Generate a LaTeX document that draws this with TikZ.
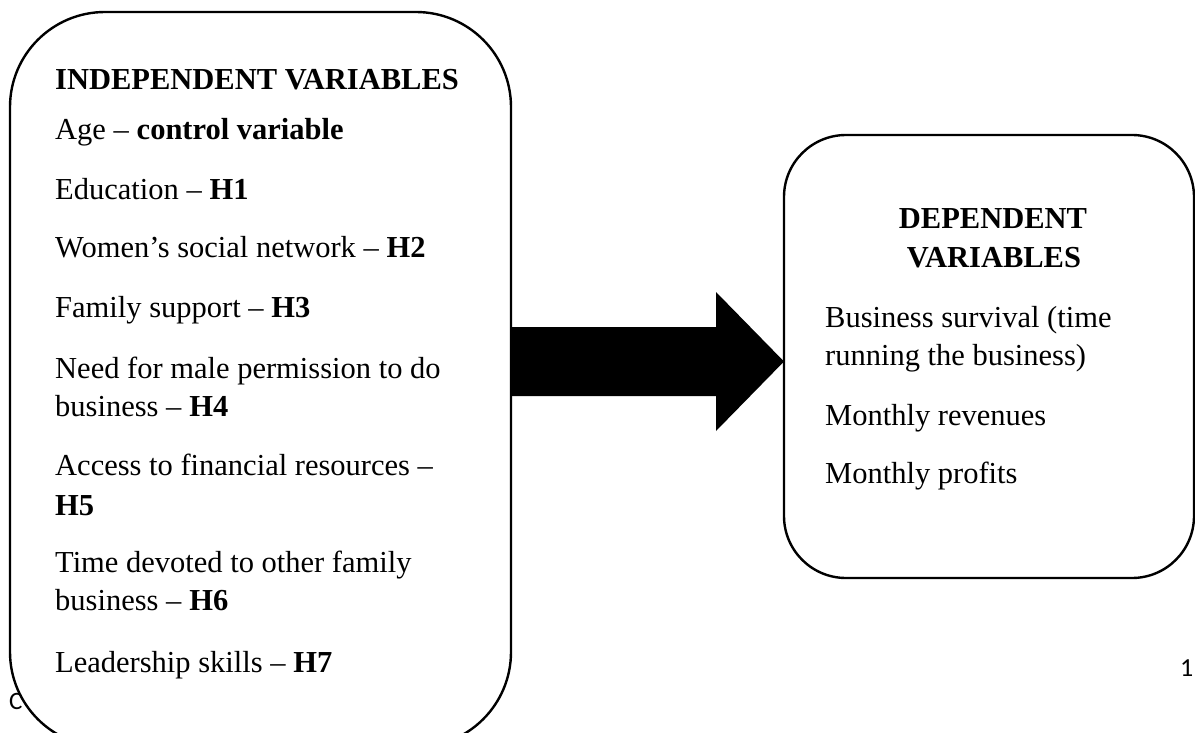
\documentclass[tikz,border=0pt]{standalone}
\usepackage{fontspec}
\setmainfont{Liberation Serif}
\newfontfamily\footfont{Carlito}
\begin{document}
\begin{tikzpicture}[x=1pt,y=-1pt,
  box/.style={draw, line width=2.4pt, fill=white, rounded corners=#1,
              inner sep=0pt, outer sep=0pt},
  item/.style={anchor=base west, inner sep=0pt,
               font=\fontsize{30.5}{38}\selectfont},
  head/.style={inner sep=0pt, font=\fontsize{30.5}{38}\selectfont\bfseries},
  foot/.style={anchor=base west, inner sep=0pt, font=\footfont}]
\useasboundingbox (0,0) rectangle (1195,733);

% footer text partly covered by the left panel
\node[foot, font=\footfont\fontsize{25}{30}\selectfont] (footc) at (9,709) {C};
\node[foot, font=\footfont\fontsize{26}{30}\selectfont] (pagenum) at (1180,676) {1};

% panels
\node[box=95pt, minimum width=501pt, minimum height=735pt] (L) at (260.5,379.5) {};
\node[box=62pt, minimum width=410pt, minimum height=443pt] (R) at (989,356.5) {};

% block arrow from the left panel to the right panel
\fill[black] (L.east |- 0,327) -- (716,327) -- (716,292) -- (R.west |- 0,361.5)
  -- (716,431) -- (716,396) -- (L.east |- 0,396) -- cycle;

% independent variables
\node[head, anchor=base west] (ivh) at (55,90) {INDEPENDENT VARIABLES};
\node[item] (iv1) at (55,140) {Age -- \textbf{control variable}};
\node[item] (iv2) at (55,200) {Education -- \textbf{H1}};
\node[item] (iv3) at (55,258) {Women’s social network -- \textbf{H2}};
\node[item] (iv4) at (55,317) {Family support -- \textbf{H3}};
\node[item] (iv5a) at (55,378) {Need for male permission to do};
\node[item] (iv5b) at (55,416) {business -- \textbf{H4}};
\node[item] (iv6a) at (55,475) {Access to financial resources --};
\node[item] (iv6b) at (55,515) {\textbf{H5}};
\node[item] (iv7a) at (55,572) {Time devoted to other family};
\node[item] (iv7b) at (55,610) {business -- \textbf{H6}};
\node[item] (iv8) at (55,672) {Leadership skills -- \textbf{H7}};

% dependent variables
\node[head, anchor=base] (dvh1) at (993,229) {DEPENDENT};
\node[head, anchor=base] (dvh2) at (994,267) {VARIABLES};
\node[item] (dv1a) at (825,327) {Business survival (time};
\node[item] (dv1b) at (825,365) {running the business)};
\node[item] (dv2) at (825,425) {Monthly revenues};
\node[item] (dv3) at (825,483) {Monthly profits};
\end{tikzpicture}
\end{document}
